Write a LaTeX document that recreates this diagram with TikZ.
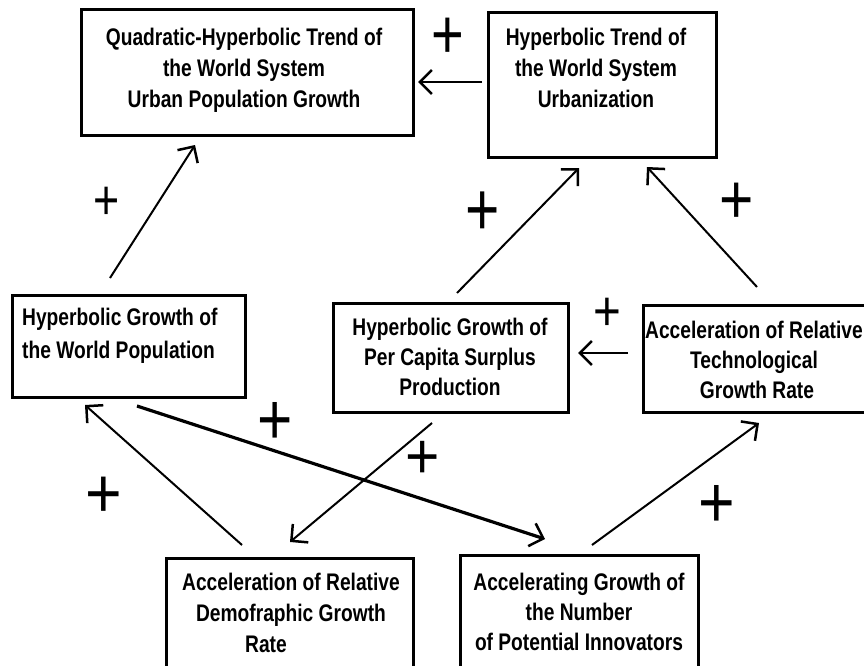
\documentclass[tikz,border=0pt]{standalone}
\usepackage{fontspec}
\usepackage{graphicx}
\usetikzlibrary{arrows.meta}
\newfontfamily\boxfont{Liberation Sans}[FakeStretch=0.8]
\newfontfamily\plusfont{Liberation Sans}
\tikzset{
  box/.style={draw,line width=3pt,rectangle,inner sep=0pt,outer sep=0pt},
  lbl/.style={font=\boxfont\bfseries\fontsize{24}{#1}\selectfont,align=center,inner sep=0pt,anchor=base},
  conn/.style={line width=2pt,-{Straight Barb[length=12pt,width=24pt,line width=2.5pt]}},
  thickconn/.style={conn,line width=3.2pt},
  plusmark/.style={inner sep=0pt,font=\plusfont\fontsize{56}{56}\selectfont},
}
\begin{document}
\begin{tikzpicture}[x=1pt,y=-1pt]
\useasboundingbox (0,0) rectangle (864,666);
\clip (0,0) rectangle (864,666);
% boxes
\node[box,minimum width=332pt,minimum height=125pt] (b1) at (247,72.5) {};
\node[box,minimum width=228pt,minimum height=144pt] (b2) at (602,85) {};
\node[box,minimum width=233pt,minimum height=102pt] (b3) at (128.5,346) {};
\node[box,minimum width=235pt,minimum height=109pt] (b4) at (450.5,357.5) {};
\node[box,minimum width=225pt,minimum height=107pt] (b5) at (755.5,358.5) {};
\node[box,minimum width=247pt,minimum height=120pt] (b6) at (289.5,618) {};
\node[box,minimum width=238pt,minimum height=123pt] (b7) at (579,616.5) {};
% texts (anchored at the baseline of the last line)
\node[lbl=31pt] (t1) at (244,108) {Quadratic-Hyperbolic Trend of\\the World System\\Urban Population Growth};
\node[lbl=31pt] (t2) at (596,108) {Hyperbolic Trend of\\the World System\\Urbanization};
\node[lbl=33pt,align=left,anchor=base west] (t3) at (22,358) {Hyperbolic Growth of\\the World Population};
\node[lbl=30pt] (t4) at (450,395) {Hyperbolic Growth of\\Per Capita Surplus\\Production};
\node[lbl=30pt] (t5) at (754,398) {Acceleration of Relative\\Technological\hspace*{4pt}\\Growth Rate\hspace*{-6pt}};
\node[lbl=31pt] (t6) at (291,652) {Acceleration of Relative\\Demofraphic Growth\\Rate\hspace*{50pt}};
\node[lbl=30pt] (t7) at (579,650) {Accelerating Growth of\\the Number\hspace*{12pt}\\of Potential Innovators};
% connector end points
\coordinate (s31) at (110,278);  \coordinate (e31) at (195,145);
\coordinate (s21) at (482,82);   \coordinate (e21) at (418,82);
\coordinate (s42) at (457,293);  \coordinate (e42) at (579,168);
\coordinate (s52) at (757,287);  \coordinate (e52) at (647,167);
\coordinate (s54) at (628,353);  \coordinate (e54) at (578,353);
\coordinate (s63) at (242,545);  \coordinate (e63) at (85,405);
\coordinate (s37) at (137,406);  \coordinate (e37) at (545,539);
\coordinate (s46) at (432,423);  \coordinate (e46) at (290,542);
\coordinate (s75) at (592,545);  \coordinate (e75) at (759,423);
% connectors
\draw[conn] (s31) -- (e31);
\draw[conn] (s21) -- (e21);
\draw[conn] (s42) -- (e42);
\draw[conn] (s52) -- (e52);
\draw[conn] (s54) -- (e54);
\draw[conn] (s63) -- (e63);
\draw[thickconn] (s37) -- (e37);
\draw[conn] (s46) -- (e46);
\draw[conn] (s75) -- (e75);
% plus signs
\node[plusmark] (p1) at (448,38) {\scalebox{1.0}[1.25]{+}};
\node[plusmark] (p2) at (107,203) {\scalebox{0.8}[1.0]{+}};
\node[plusmark] (p3) at (483,214) {\scalebox{1.05}[1.35]{+}};
\node[plusmark] (p4) at (737,203) {\scalebox{1.05}[1.25]{+}};
\node[plusmark] (p5) at (607,314) {\scalebox{0.85}[1.0]{+}};
\node[plusmark] (p6) at (275,423) {\scalebox{1.08}[1.3]{+}};
\node[plusmark] (p7) at (423,460) {\scalebox{1.05}[1.15]{+}};
\node[plusmark] (p8) at (104,497) {\scalebox{1.12}[1.25]{+}};
\node[plusmark] (p9) at (717,506) {\scalebox{1.12}[1.3]{+}};
\end{tikzpicture}
\end{document}
